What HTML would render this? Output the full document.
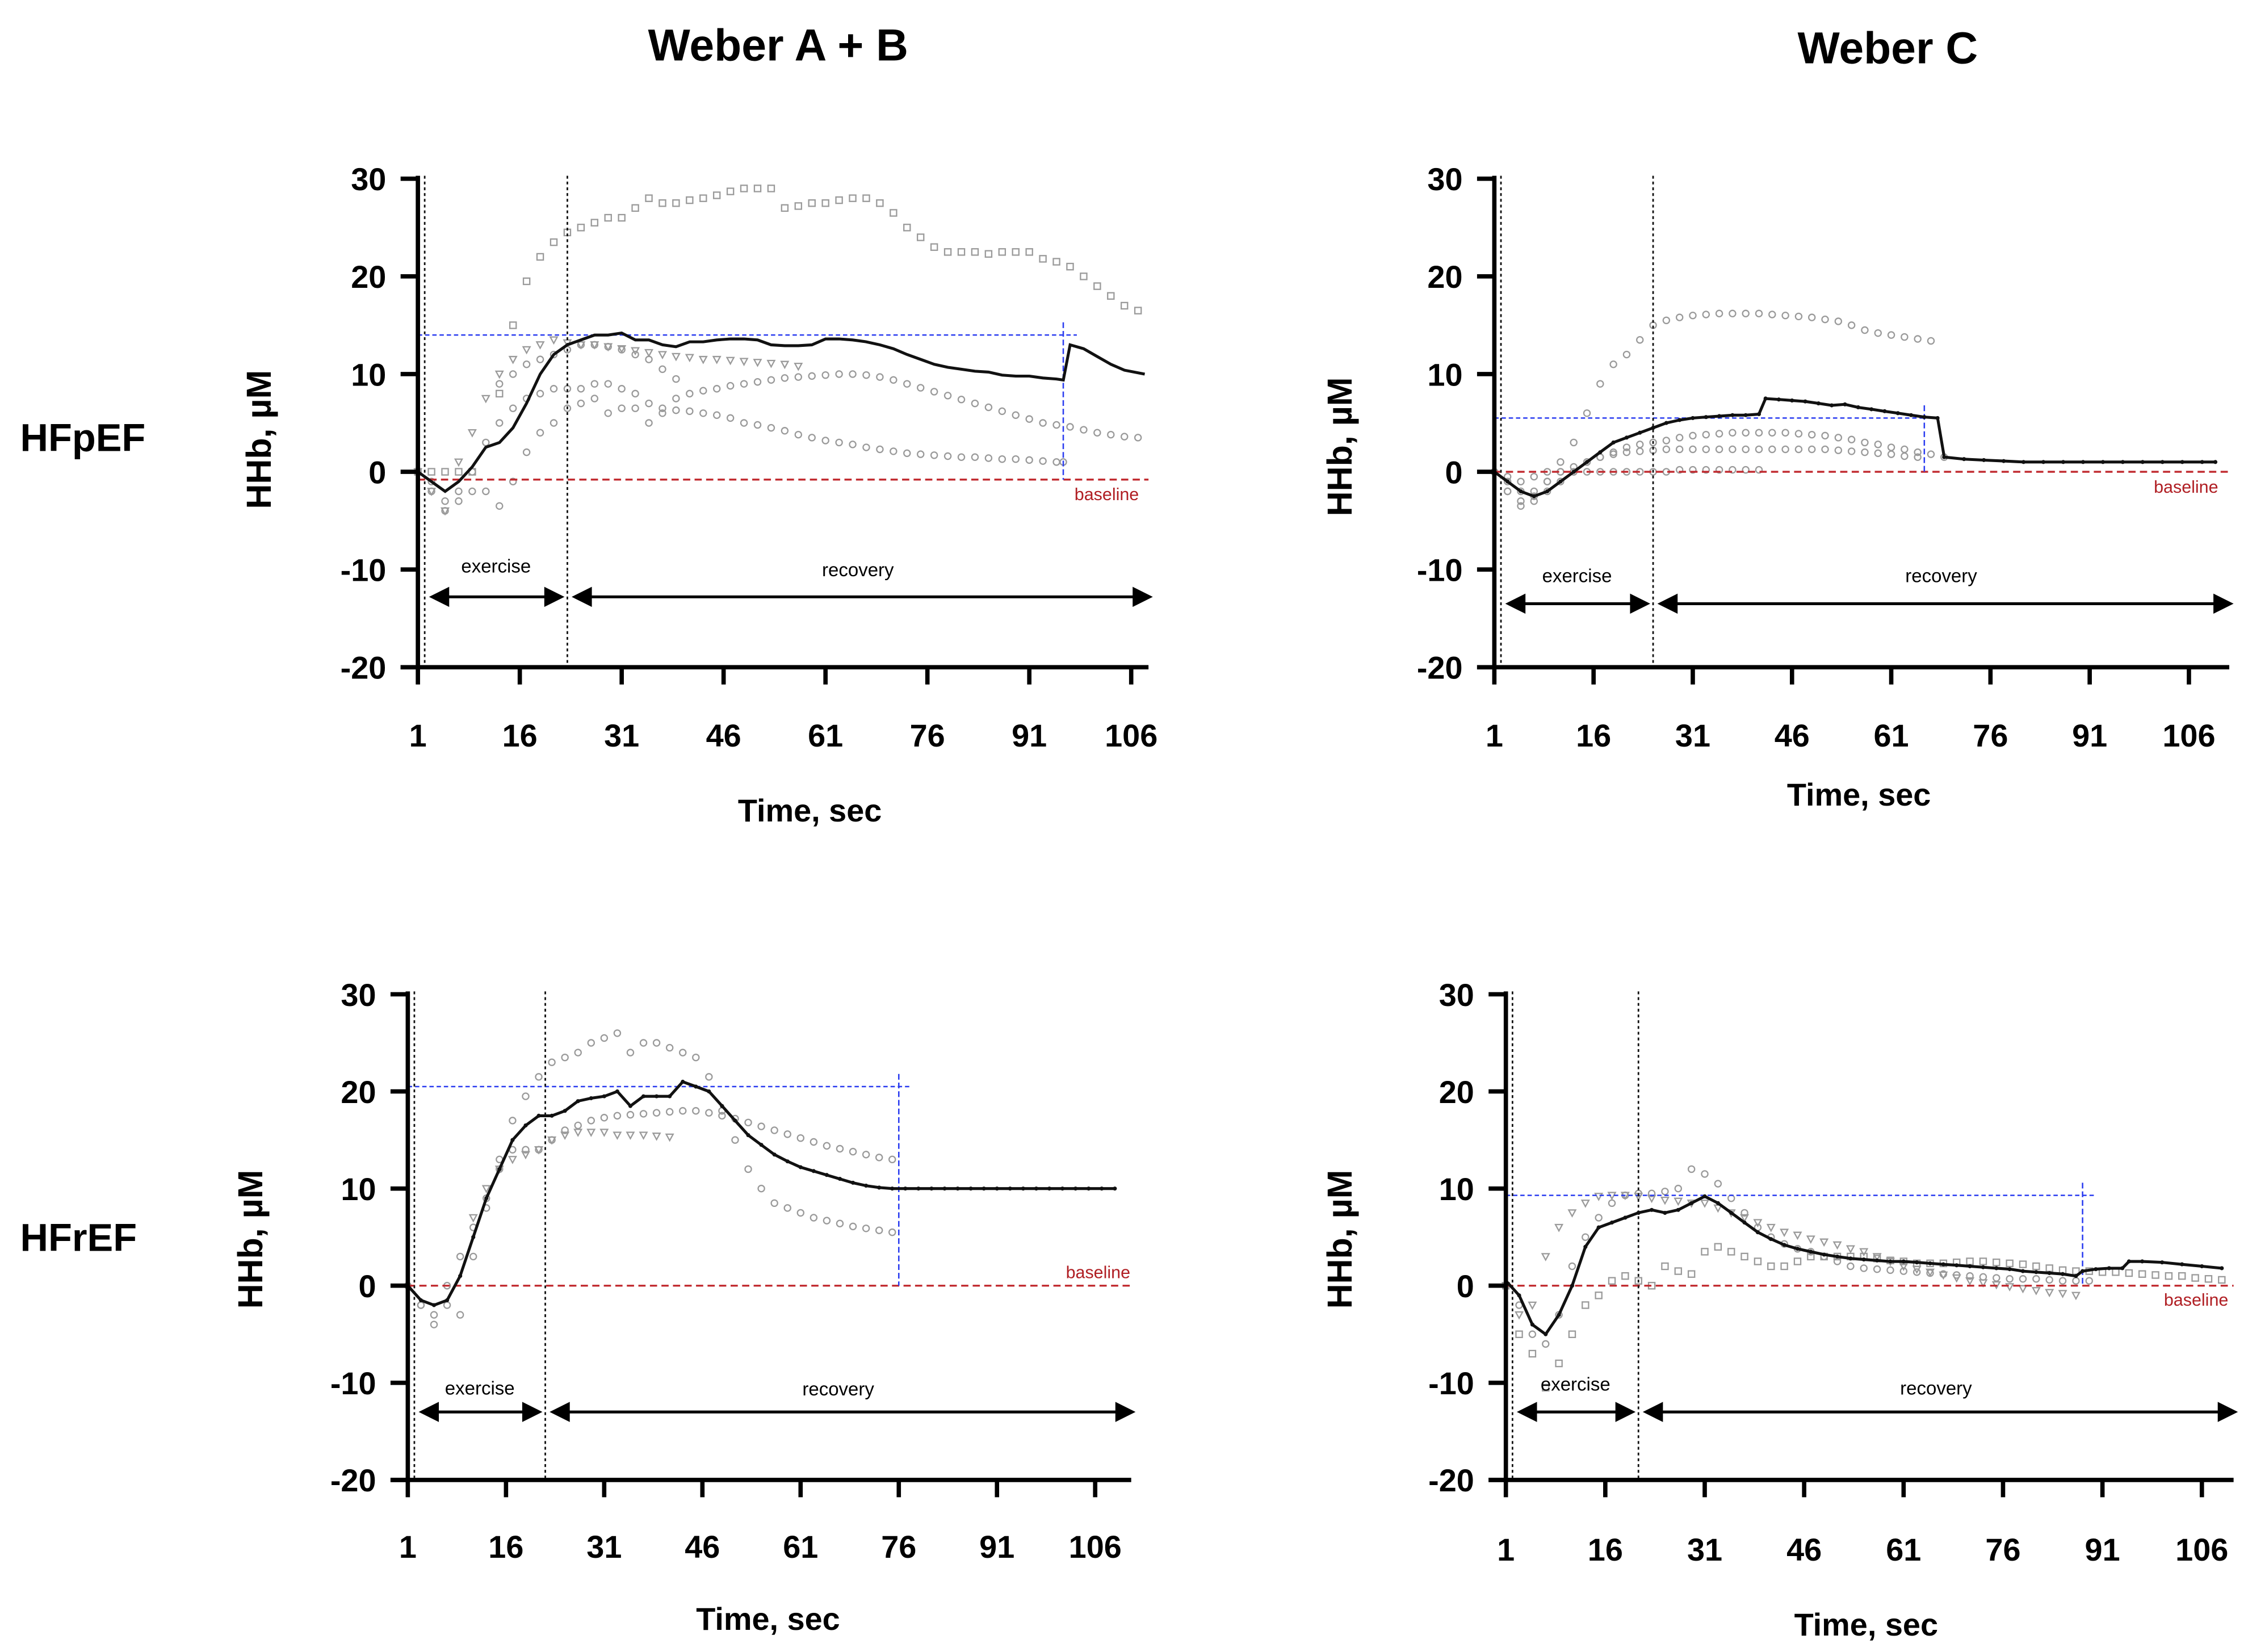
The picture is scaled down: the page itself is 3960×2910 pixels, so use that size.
<!DOCTYPE html>
<html><head><meta charset="utf-8">
<style>
html,body{margin:0;padding:0;background:#fff;}
svg{display:block;}
text{font-family:"Liberation Sans",Arial,sans-serif;}
</style></head>
<body>
<svg id="chart" width="3960" height="2910" viewBox="0 0 1560 1146.4" preserveAspectRatio="none" xmlns="http://www.w3.org/2000/svg">
<rect width="1560" height="1146.4" fill="#fff"/>
<text x="540" y="42" font-size="31" font-weight="bold" text-anchor="middle">Weber A + B</text>
<text x="1310" y="44" font-size="31" font-weight="bold" text-anchor="middle">Weber C</text>
<text x="14" y="313" font-size="27" font-weight="bold">HFpEF</text>
<text x="14" y="868" font-size="27" font-weight="bold">HFrEF</text>
</svg>
<script>
// ---- data (time sec, HHb µM) ----
const xTickLabels = [1,16,31,46,61,76,91,106];
const yTickLabels = [30,20,10,0,-10,-20];

const tlBlack = [[1,0],[3,-1],[5,-2],[7,-1],[9,0.5],[11,2.5],[13,3],[15,4.5],[17,7],[19,10],[21,12],[23,13],[25,13.5],[27,14],[29,14],[31,14.2],[33,13.5],[35,13.5],[37,13],[39,12.8],[41,13.3],[43,13.3],[45,13.5],[47,13.6],[49,13.6],[51,13.5],[53,13],[55,12.9],[57,12.9],[59,13],[61,13.6],[63,13.6],[65,13.5],[67,13.3],[69,13],[71,12.6],[73,12],[75,11.5],[77,11],[79,10.7],[81,10.5],[83,10.3],[85,10.2],[87,9.9],[89,9.8],[91,9.8],[93,9.6],[95,9.5],[96,9.4],[97,13],[99,12.6],[101,11.8],[103,11],[105,10.4],[108,10]];
const tlSquares = [[1,0],[3,0],[5,0],[7,0],[9,0],[13,8],[15,15],[17,19.5],[19,22],[21,23.5],[23,24.5],[25,25],[27,25.5],[29,26],[31,26],[33,27],[35,28],[37,27.5],[39,27.5],[41,27.8],[43,28],[45,28.3],[47,28.7],[49,29],[51,29],[53,29],[55,27],[57,27.2],[59,27.5],[61,27.5],[63,27.8],[65,28],[67,28],[69,27.5],[71,26.5],[73,25],[75,24],[77,23],[79,22.5],[81,22.5],[83,22.5],[85,22.3],[87,22.5],[89,22.5],[91,22.5],[93,21.8],[95,21.5],[97,21],[99,20],[101,19],[103,18],[105,17],[107,16.5]];
const tlCirclesA = [[1,0],[3,-1],[5,-3],[7,-2],[9,0],[11,3],[13,5],[15,6.5],[17,7.5],[19,8],[21,8.5],[23,8.5],[25,8.5],[27,9],[29,9],[31,8.5],[33,8],[35,7],[37,6.5],[39,6.3],[41,6.2],[43,6],[45,5.8],[47,5.5],[49,5],[51,4.8],[53,4.5],[55,4.2],[57,3.8],[59,3.5],[61,3.2],[63,3],[65,2.8],[67,2.5],[69,2.3],[71,2.1],[73,1.9],[75,1.8],[77,1.7],[79,1.6],[81,1.5],[83,1.5],[85,1.4],[87,1.3],[89,1.3],[91,1.2],[93,1.1],[95,1],[96,1]];
const tlCirclesB = [[1,0],[3,-2],[5,-4],[7,-3],[9,-2],[11,-2],[13,-3.5],[15,-1],[17,2],[19,4],[21,5],[23,6.5],[25,7],[27,7.5],[29,6],[31,6.5],[33,6.5],[35,5],[37,6],[39,7.5],[41,8],[43,8.3],[45,8.5],[47,8.8],[49,9],[51,9.2],[53,9.4],[55,9.6],[57,9.7],[59,9.8],[61,9.9],[63,10],[65,10],[67,9.9],[69,9.7],[71,9.4],[73,9],[75,8.6],[77,8.2],[79,7.8],[81,7.4],[83,7],[85,6.6],[87,6.2],[89,5.8],[91,5.4],[93,5],[95,4.8],[97,4.6],[99,4.3],[101,4],[103,3.8],[105,3.6],[107,3.5]];
const tlCirclesC = [[13,9],[15,10],[17,11],[19,11.5],[21,12],[23,12.5],[25,13],[27,13],[29,12.8],[31,12.5],[33,12],[35,11.5],[37,10.5],[39,9.5]];
const tlTriangles = [[1,0],[3,-2],[5,-4],[7,1],[9,4],[11,7.5],[13,10],[15,11.5],[17,12.5],[19,13],[21,13.5],[23,13.2],[25,13],[27,13],[29,12.8],[31,12.6],[33,12.4],[35,12.2],[37,12],[39,11.8],[41,11.7],[43,11.5],[45,11.5],[47,11.4],[49,11.3],[51,11.2],[53,11.1],[55,11],[57,10.8]];

const trBlack = [[1,0],[3,-1],[5,-2],[7,-2.5],[9,-2],[11,-1],[13,0],[15,1],[17,2],[19,3],[21,3.5],[23,4],[25,4.5],[27,5],[29,5.3],[31,5.5],[33,5.6],[35,5.7],[37,5.8],[39,5.8],[41,5.9],[42,7.5],[44,7.4],[46,7.3],[48,7.2],[50,7],[52,6.8],[54,6.9],[56,6.6],[58,6.4],[60,6.2],[62,6],[64,5.8],[66,5.6],[68,5.5],[69,1.5],[72,1.3],[75,1.2],[78,1.1],[81,1],[84,1],[87,1],[90,1],[93,1],[96,1],[99,1],[102,1],[105,1],[108,1],[110,1]];
const trCirclesHigh = [[1,0],[3,-1],[5,-2],[7,-2],[9,-1],[11,1],[13,3],[15,6],[17,9],[19,11],[21,12],[23,13.5],[25,15],[27,15.5],[29,15.8],[31,16],[33,16.1],[35,16.2],[37,16.2],[39,16.2],[41,16.2],[43,16.1],[45,16],[47,15.9],[49,15.8],[51,15.6],[53,15.4],[55,15],[57,14.5],[59,14.2],[61,14],[63,13.8],[65,13.6],[67,13.4]];
const trCirclesMid = [[1,0],[3,-2],[5,-3],[7,-3],[9,-2],[11,-1],[13,0],[15,1],[17,1.5],[19,2],[21,2.5],[23,2.8],[25,3],[27,3.2],[29,3.5],[31,3.7],[33,3.8],[35,3.9],[37,4],[39,4],[41,4],[43,4],[45,4],[47,3.9],[49,3.8],[51,3.7],[53,3.5],[55,3.3],[57,3],[59,2.8],[61,2.5],[63,2.3],[65,2],[67,1.8],[69,1.5]];
const trCirclesLow = [[1,0],[3,-2],[5,-3.5],[7,-2.5],[9,-1],[11,0],[13,0.5],[15,1],[17,1.5],[19,1.8],[21,2],[23,2.1],[25,2.2],[27,2.3],[29,2.3],[31,2.3],[33,2.3],[35,2.3],[37,2.3],[39,2.3],[41,2.3],[43,2.3],[45,2.3],[47,2.3],[49,2.3],[51,2.3],[53,2.2],[55,2.1],[57,2],[59,1.9],[61,1.8],[63,1.6],[65,1.5]];
const trCirclesZero = [[1,0],[3,-0.5],[5,-1],[7,-0.5],[9,0],[11,0],[13,0],[15,0],[17,0],[19,0],[21,0],[23,0],[25,0],[27,0],[29,0.2],[31,0.2],[33,0.2],[35,0.2],[37,0.2],[39,0.2],[41,0.2]];

const blBlack = [[1,0],[3,-1.5],[5,-2],[7,-1.5],[9,1],[11,5],[13,9],[15,12],[17,15],[19,16.5],[21,17.5],[23,17.5],[25,18],[27,19],[29,19.3],[31,19.5],[33,20],[35,18.5],[37,19.5],[39,19.5],[41,19.5],[43,21],[45,20.5],[47,20],[49,18.5],[51,17],[53,15.5],[55,14.5],[57,13.5],[59,12.8],[61,12.2],[63,11.8],[65,11.4],[67,11],[69,10.6],[71,10.3],[73,10.1],[75,10],[77,10],[79,10],[81,10],[83,10],[85,10],[87,10],[89,10],[91,10],[93,10],[95,10],[97,10],[99,10],[101,10],[103,10],[105,10],[107,10],[109,10]];
const blCirclesTop = [[1,0],[3,-2],[5,-4],[7,-2],[9,-3],[11,3],[13,8],[15,13],[17,17],[19,19.5],[21,21.5],[23,23],[25,23.5],[27,24],[29,25],[31,25.5],[33,26],[35,24],[37,25],[39,25],[41,24.5],[43,24],[45,23.5],[47,21.5],[49,18],[51,15],[53,12],[55,10],[57,8.5],[59,8],[61,7.5],[63,7],[65,6.7],[67,6.4],[69,6.1],[71,5.9],[73,5.7],[75,5.5]];
const blCirclesMid = [[1,0],[3,-2],[5,-3],[7,0],[9,3],[11,6],[13,9],[15,12],[17,14],[19,14],[21,14],[23,15],[25,16],[27,16.5],[29,17],[31,17.3],[33,17.5],[35,17.6],[37,17.7],[39,17.8],[41,17.9],[43,18],[45,18],[47,17.8],[49,17.5],[51,17.2],[53,16.8],[55,16.4],[57,16],[59,15.6],[61,15.2],[63,14.8],[65,14.4],[67,14.1],[69,13.8],[71,13.5],[73,13.2],[75,13]];
const blTriangles = [[11,7],[13,10],[15,12],[17,13],[19,13.5],[21,14],[23,15],[25,15.5],[27,15.8],[29,15.8],[31,15.8],[33,15.5],[35,15.5],[37,15.5],[39,15.4],[41,15.3]];

const brBlack = [[1,0.5],[3,-1],[5,-4],[7,-5],[9,-3],[11,0],[13,4],[15,6],[17,6.5],[19,7],[21,7.5],[23,7.8],[25,7.5],[27,7.8],[29,8.5],[31,9.2],[33,8.5],[35,7.5],[37,6.5],[39,5.5],[41,4.8],[43,4.2],[45,3.8],[47,3.5],[49,3.2],[51,3],[53,2.8],[55,2.7],[57,2.6],[59,2.5],[61,2.5],[63,2.4],[65,2.3],[67,2.2],[69,2.1],[71,2],[73,1.9],[75,1.8],[77,1.7],[79,1.5],[81,1.4],[83,1.3],[85,1.2],[87,1],[88,1.5],[90,1.7],[92,1.8],[94,1.8],[95,2.5],[97,2.5],[100,2.4],[103,2.2],[106,2],[109,1.8]];
const brSquares = [[1,0],[3,-5],[5,-7],[7,-10.5],[9,-8],[11,-5],[13,-2],[15,-1],[17,0.5],[19,1],[21,0.5],[23,0],[25,2],[27,1.5],[29,1.2],[31,3.5],[33,4],[35,3.5],[37,3],[39,2.5],[41,2],[43,2],[45,2.5],[47,3],[49,3],[51,3],[53,3],[55,3],[57,2.8],[59,2.6],[61,2.5],[63,2.3],[65,2.3],[67,2.3],[69,2.4],[71,2.5],[73,2.5],[75,2.4],[77,2.3],[79,2.2],[81,2],[83,1.8],[85,1.6],[87,1.5],[89,1.5],[91,1.4],[93,1.4],[95,1.3],[97,1.2],[99,1.1],[101,1],[103,1],[105,0.8],[107,0.7],[109,0.6]];
const brCircles = [[1,0],[3,-2],[5,-5],[7,-6],[9,-3],[11,2],[13,5],[15,7],[17,8.5],[19,9.3],[21,9.5],[23,9.5],[25,9.7],[27,10],[29,12],[31,11.5],[33,10.5],[35,9],[37,7.5],[39,6],[41,5],[43,4.3],[45,3.8],[47,3.5],[49,3],[51,2.5],[53,2],[55,1.8],[57,1.7],[59,1.6],[61,1.5],[63,1.4],[65,1.3],[67,1.2],[69,1.1],[71,1],[73,0.9],[75,0.8],[77,0.7],[79,0.7],[81,0.7],[83,0.6],[85,0.5],[87,0.5],[89,0.5]];
const brTriangles = [[1,0],[3,-3],[5,-2],[7,3],[9,6],[11,7.5],[13,8.5],[15,9.2],[17,9.3],[19,9.3],[21,9.2],[23,9],[25,8.8],[27,8.7],[29,8.5],[31,8.5],[33,8],[35,7.5],[37,7],[39,6.5],[41,6],[43,5.5],[45,5.2],[47,4.8],[49,4.5],[51,4.2],[53,3.8],[55,3.5],[57,3],[59,2.5],[61,2],[63,1.7],[65,1.4],[67,1.1],[69,0.8],[71,0.5],[73,0.3],[75,0.1],[77,-0.1],[79,-0.3],[81,-0.5],[83,-0.7],[85,-0.8],[87,-1]];

// reference markers: [exerciseStart, exerciseEnd, plateauValue, plateauTime, baselineValue]
const tlRefs = [2, 23, 14, 96, -0.8];
const trRefs = [2, 25, 5.5, 66, 0];
const blRefs = [2, 22, 20.5, 76, 0];
const brRefs = [2, 21, 9.3, 88, 0];

// ---- layout ----
const panels = [
  {id:'top-left', x0:290, x1:785, xEnd:797, yTop:124, yBot:463, labY:518, timeX:562, timeY:570, hhbX:188, hhbY:305, blackMarkers:false,
   refs:tlRefs, baseTextX:768, baseTextY:347, arrowY:-12.8, exTextY:-10.3, recTextY:-10.7, plateauEnd:98,
   black:tlBlack, gray:[['square',tlSquares],['circle',tlCirclesA],['circle',tlCirclesB],['circle',tlCirclesC],['triangle',tlTriangles]]},
  {id:'top-right', x0:1037, x1:1519, xEnd:1547, yTop:124, yBot:463, labY:518, timeX:1290, timeY:559, hhbX:938, hhbY:310, blackMarkers:true,
   refs:trRefs, baseTextX:1517, baseTextY:342, arrowY:-13.5, exTextY:-11.3, recTextY:-11.3, plateauEnd:66,
   black:trBlack, gray:[['circle',trCirclesHigh],['circle',trCirclesMid],['circle',trCirclesLow],['circle',trCirclesZero]]},
  {id:'bottom-left', x0:283, x1:760, xEnd:785, yTop:690, yBot:1027, labY:1081, timeX:533, timeY:1131, hhbX:182, hhbY:860, blackMarkers:true,
   refs:blRefs, baseTextX:762, baseTextY:887, arrowY:-13, exTextY:-11.2, recTextY:-11.3, plateauEnd:78,
   black:blBlack, gray:[['circle',blCirclesTop],['circle',blCirclesMid],['triangle',blTriangles]]},
  {id:'bottom-right', x0:1045, x1:1528, xEnd:1550, yTop:690, yBot:1027, labY:1083, timeX:1295, timeY:1135, hhbX:938, hhbY:860, blackMarkers:true,
   refs:brRefs, baseTextX:1524, baseTextY:906, arrowY:-13, exTextY:-10.8, recTextY:-11.2, plateauEnd:90,
   black:brBlack, gray:[['square',brSquares],['circle',brCircles],['triangle',brTriangles]]}
];

const svg = document.getElementById('chart');
const NS = 'http://www.w3.org/2000/svg';
function mk(tag, attrs, parent){ const e=document.createElementNS(NS,tag); for(const k in attrs) e.setAttribute(k,attrs[k]); (parent||svg).appendChild(e); return e; }

panels.forEach(p=>{
  const g = mk('g',{});
  
  
  const xs = t => p.x0 + (t-1)*(p.x1-p.x0)/105;
  const ys = v => p.yBot - (v+20)*(p.yBot-p.yTop)/50;

  p.gray.forEach(([shape, data], si)=>{
    const sg = mk('g',{fill:'none',stroke:'#9a9a9a','stroke-width':0.9}, g);
    
    
    data.forEach(([t,v])=>{
      const cx=xs(t), cy=ys(v);
      let m;
      if(shape==='square') m = mk('rect',{x:cx-2.2,y:cy-2.2,width:4.4,height:4.4}, sg);
      else if(shape==='triangle') m = mk('path',{d:`M${cx-2.4},${cy-2} L${cx+2.4},${cy-2} L${cx},${cy+2.4} Z`}, sg);
      else m = mk('circle',{cx:cx,cy:cy,r:2.2}, sg);
      
      
    });
  });

  const r = p.refs;
  const bl = mk('line',{x1:p.x0,x2:p.xEnd,y1:ys(r[4]),y2:ys(r[4]),stroke:'#c0282d','stroke-width':1.3,'stroke-dasharray':'5,3'}, g);
  
  
  const bt = mk('text',{x:p.baseTextX,y:p.baseTextY,'font-size':12,fill:'#b01e23','text-anchor':'middle'}, g);
  bt.textContent='baseline';
  
  

  const ph = mk('line',{x1:p.x0,x2:xs(p.plateauEnd),y1:ys(r[2]),y2:ys(r[2]),stroke:'#2a3cf0','stroke-width':1,'stroke-dasharray':'3,2'}, g);
  
  
  const pv = mk('line',{x1:xs(r[3]),x2:xs(r[3]),y1:ys(r[2]+1.3),y2:ys(r[4]),stroke:'#2a3cf0','stroke-width':1,'stroke-dasharray':'4,2'}, g);
  
  

  const pts = p.black.map(([t,v])=>xs(t).toFixed(1)+','+ys(v).toFixed(1)).join(' ');
  const bline = mk('polyline',{points:pts,fill:'none',stroke:'#111','stroke-width':2}, g);
  
  
  if(p.blackMarkers){
    p.black.forEach(([t,v])=>{
      const d = mk('circle',{cx:xs(t),cy:ys(v),r:1.4,fill:'#111'}, g);
      
      
    });
  }

  [r[0], r[1]].forEach((t,i)=>{
    const l = mk('line',{x1:xs(t),x2:xs(t),y1:p.yTop-2,y2:p.yBot,stroke:'#111','stroke-width':1.1,'stroke-dasharray':'2,2'}, g);
    
    
  });

  const ay = ys(p.arrowY);
  function arrow(xa, xb, name){
    const a = mk('g',{}, g);
    
    
    mk('line',{x1:xa+8,x2:xb-8,y1:ay,y2:ay,stroke:'#000','stroke-width':2}, a);
    mk('path',{d:`M${xa},${ay} L${xa+14},${ay-7} L${xa+14},${ay+7} Z`,fill:'#000'}, a);
    mk('path',{d:`M${xb},${ay} L${xb-14},${ay-7} L${xb-14},${ay+7} Z`,fill:'#000'}, a);
  }
  arrow(xs(r[0])+3, xs(r[1])-2, 'exercise-arrow');
  arrow(xs(r[1])+3, p.xEnd+3, 'recovery-arrow');
  const et = mk('text',{x:(xs(r[0])+xs(r[1]))/2,y:ys(p.exTextY),'font-size':13,'text-anchor':'middle'}, g);
  et.textContent='exercise';
  
  
  const rt = mk('text',{x:(xs(r[1])+p.xEnd)/2,y:ys(p.recTextY),'font-size':13,'text-anchor':'middle'}, g);
  rt.textContent='recovery';
  
  

  const ya = mk('line',{x1:p.x0,x2:p.x0,y1:p.yTop-2,y2:p.yBot,stroke:'#000','stroke-width':3}, g);
  
  
  const xa = mk('line',{x1:p.x0-12,x2:p.xEnd,y1:p.yBot,y2:p.yBot,stroke:'#000','stroke-width':3}, g);
  
  
  yTickLabels.forEach(v=>{
    const tk = mk('line',{x1:p.x0-12,x2:p.x0,y1:ys(v),y2:ys(v),stroke:'#000','stroke-width':3}, g);
    
    
    const tl = mk('text',{x:p.x0-22,y:ys(v)+8,'font-size':22,'font-weight':'bold','text-anchor':'end'}, g);
    tl.textContent = v;
    
    
  });
  xTickLabels.forEach(t=>{
    const tk = mk('line',{x1:xs(t),x2:xs(t),y1:p.yBot,y2:p.yBot+12,stroke:'#000','stroke-width':3}, g);
    
    
    const tl = mk('text',{x:xs(t),y:p.labY,'font-size':22,'font-weight':'bold','text-anchor':'middle'}, g);
    tl.textContent = t;
    
    
  });
  const xt = mk('text',{x:p.timeX,y:p.timeY,'font-size':22,'font-weight':'bold','text-anchor':'middle'}, g);
  xt.textContent='Time, sec';
  
  
  const yt = mk('text',{x:0,y:0,'font-size':24,'font-weight':'bold','text-anchor':'middle',transform:`translate(${p.hhbX},${p.hhbY}) rotate(-90)`}, g);
  yt.textContent='HHb, µM';
  
  
});
</script>
</body></html>
